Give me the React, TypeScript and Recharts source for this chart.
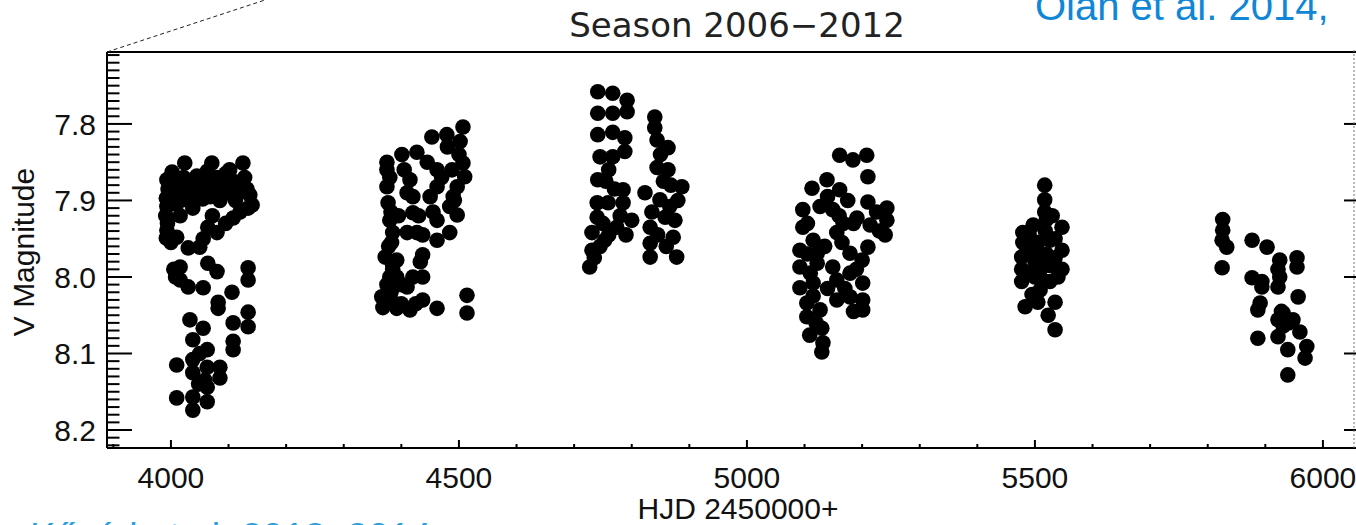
import React from 'react'
import { ScatterChart, Scatter, XAxis, YAxis } from 'recharts'

// V photometry per observing season: [HJD - 2450000, V mag]
const season2006: [number, number][] = [
  [3993, 7.873], [3995, 7.885], [3992, 7.897], [3993, 7.908], [3991, 7.92], [3994, 7.93],
  [3993, 7.939], [3992, 7.949], [4000, 7.955], [4010, 7.948], [4002, 7.863], [4008, 7.878],
  [4012, 7.892], [4010, 7.905], [4016, 7.92], [4024, 7.851], [4022, 7.87], [4028, 7.885],
  [4030, 7.9], [4035, 7.875], [4040, 7.893], [4038, 7.91], [4045, 7.868], [4050, 7.882],
  [4055, 7.898], [4058, 7.875], [4063, 7.862], [4071, 7.851], [4070, 7.875], [4068, 7.895],
  [4075, 7.885], [4080, 7.87], [4085, 7.9], [4090, 7.88], [4095, 7.865], [4102, 7.86],
  [4100, 7.89], [4108, 7.875], [4112, 7.9], [4118, 7.88], [4120, 7.889], [4125, 7.851],
  [4128, 7.87], [4132, 7.885], [4137, 7.893], [4141, 7.906], [4134, 7.91],
  [4120, 7.915], [4108, 7.923], [4095, 7.93], [4080, 7.942], [4064, 7.935], [4056, 7.95],
  [4050, 7.961], [4030, 7.962], [4072, 7.92],
  [4005, 7.99], [4008, 8.0], [4016, 7.987], [4016, 8.004], [4030, 8.013], [4056, 8.014],
  [4064, 7.982], [4080, 7.993], [4134, 7.988], [4134, 8.004], [4106, 8.02], [4082, 8.033],
  [4082, 8.041], [4134, 8.046], [4134, 8.065], [4108, 8.06], [4108, 8.084], [4108, 8.095],
  [4033, 8.056], [4056, 8.067], [4038, 8.082], [4063, 8.095], [4010, 8.115], [4038, 8.108],
  [4038, 8.125], [4063, 8.118], [4085, 8.118], [4085, 8.132], [4059, 8.135], [4063, 8.144],
  [4010, 8.158], [4038, 8.157], [4038, 8.174], [4063, 8.163], [4050, 8.1], [4048, 8.14]
]

const season2007: [number, number][] = [
  [4507, 7.804], [4502, 7.823], [4479, 7.814], [4453, 7.817], [4427, 7.837], [4401, 7.84],
  [4375, 7.85], [4507, 7.851], [4510, 7.869], [4497, 7.882], [4490, 7.895], [4484, 7.908],
  [4497, 7.919], [4492, 7.9], [4462, 7.86], [4462, 7.882], [4450, 7.895], [4455, 7.915],
  [4462, 7.926], [4484, 7.942], [4462, 7.952], [4437, 7.945], [4420, 7.916], [4420, 7.895],
  [4415, 7.873], [4410, 7.89], [4405, 7.86], [4375, 7.86], [4375, 7.882], [4377, 7.903],
  [4380, 7.926], [4385, 7.942], [4410, 7.942], [4427, 7.942], [4372, 7.974], [4392, 7.978],
  [4437, 7.971], [4433, 7.98], [4392, 8.0], [4420, 8.0], [4437, 8.0], [4410, 8.013],
  [4366, 8.026], [4385, 8.033], [4392, 8.041], [4415, 8.043], [4437, 8.03], [4462, 8.041],
  [4514, 8.024], [4514, 8.047], [4368, 8.04], [4378, 7.96], [4480, 7.83], [4470, 7.87],
  [4445, 7.85], [4488, 7.86], [4500, 7.84], [4430, 7.92], [4395, 7.92], [4385, 7.99],
  [4375, 8.01], [4400, 8.035], [4425, 8.035], [4400, 8.01], [4380, 7.87], [4382, 7.915],
  [4383, 7.955], [4385, 7.985], [4380, 8.0], [4382, 8.02]
]

const season2008: [number, number][] = [
  [4741, 7.758], [4767, 7.76], [4792, 7.769], [4741, 7.786], [4767, 7.786], [4792, 7.784],
  [4741, 7.814], [4767, 7.811], [4788, 7.818], [4745, 7.843], [4767, 7.843], [4788, 7.836],
  [4741, 7.873], [4760, 7.86], [4785, 7.886], [4740, 7.903], [4759, 7.903], [4785, 7.903],
  [4740, 7.922], [4774, 7.935], [4800, 7.926], [4731, 7.942], [4753, 7.952], [4731, 7.965],
  [4727, 7.987], [4840, 7.791], [4840, 7.805], [4844, 7.821], [4863, 7.831], [4844, 7.857],
  [4863, 7.86], [4887, 7.882], [4823, 7.89], [4849, 7.899], [4866, 7.908], [4858, 7.922],
  [4875, 7.926], [4832, 7.935], [4872, 7.948], [4832, 7.956], [4832, 7.974], [4878, 7.974],
  [4755, 7.875], [4770, 7.885], [4780, 7.92], [4750, 7.93], [4760, 7.945], [4745, 7.96],
  [4790, 7.945], [4735, 7.975], [4850, 7.84], [4855, 7.875], [4835, 7.915], [4868, 7.88],
  [4880, 7.9], [4845, 7.945], [4860, 7.96]
]

const season2009: [number, number][] = [
  [5161, 7.841], [5208, 7.841], [5184, 7.847], [5210, 7.869], [5139, 7.873], [5113, 7.884],
  [5161, 7.886], [5210, 7.902], [5243, 7.91], [5097, 7.912], [5127, 7.908], [5149, 7.912],
  [5243, 7.926], [5191, 7.923], [5167, 7.93], [5156, 7.942], [5097, 7.935], [5214, 7.932],
  [5240, 7.945], [5210, 7.961], [5115, 7.952], [5092, 7.965], [5122, 7.969], [5179, 7.969],
  [5200, 7.978], [5092, 7.987], [5122, 7.982], [5149, 7.987], [5092, 8.014], [5115, 8.008],
  [5156, 8.004], [5179, 7.995], [5201, 8.008], [5156, 8.03], [5179, 8.026], [5201, 8.03],
  [5201, 8.043], [5104, 8.034], [5127, 8.043], [5104, 8.052], [5109, 8.076], [5130, 8.067],
  [5132, 8.086], [5130, 8.098], [5140, 7.895], [5175, 7.9], [5160, 7.92], [5185, 7.93],
  [5105, 7.97], [5135, 7.96], [5165, 7.955], [5190, 7.99], [5110, 7.995], [5140, 8.015],
  [5170, 8.015], [5115, 8.025], [5185, 8.045], [5120, 8.06], [5105, 7.93], [5225, 7.915],
  [5230, 7.94]
]

const season2010: [number, number][] = [
  [5517, 7.88], [5517, 7.899], [5517, 7.915], [5520, 7.925], [5547, 7.935], [5497, 7.932],
  [5479, 7.942], [5479, 7.955], [5477, 7.974], [5477, 7.99], [5477, 8.006], [5505, 7.955],
  [5510, 7.974], [5510, 7.99], [5526, 7.952], [5547, 7.965], [5547, 7.99], [5526, 7.985],
  [5526, 8.006], [5509, 8.017], [5495, 8.023], [5483, 8.039], [5505, 8.033], [5535, 8.033],
  [5523, 8.05], [5535, 8.069], [5490, 7.945], [5495, 7.965], [5500, 7.98], [5490, 7.995],
  [5520, 7.97], [5535, 7.95], [5535, 7.975], [5500, 8.0], [5515, 8.005], [5485, 7.96],
  [5540, 8.0], [5518, 7.94], [5530, 7.92]
]

const season2011: [number, number][] = [
  [5826, 7.925], [5826, 7.939], [5825, 7.952], [5833, 7.961], [5825, 7.988], [5877, 7.952],
  [5903, 7.961], [5925, 7.978], [5955, 7.975], [5955, 7.987], [5922, 7.99], [5877, 8.001],
  [5894, 8.006], [5894, 8.013], [5922, 8.013], [5957, 8.026], [5891, 8.034], [5887, 8.043],
  [5931, 8.047], [5922, 8.056], [5948, 8.056], [5931, 8.064], [5960, 8.072], [5887, 8.08],
  [5922, 8.078], [5939, 8.095], [5972, 8.091], [5969, 8.106], [5939, 8.128], [5925, 8.0],
  [5940, 8.06], [5928, 8.045]
]

const seasonNames = ['2006/07', '2007/08', '2008/09', '2009/10', '2010/11', '2011/12']
const seasons = [season2006, season2007, season2008, season2009, season2010, season2011]

const xMajorTicks = [4000, 4500, 5000, 5500, 6000]
const yMajorTicks = [7.8, 7.9, 8.0, 8.1, 8.2]

const X_DOMAIN: [number, number] = [3889, 6080]
const Y_DOMAIN: [number, number] = [7.706, 8.2235]

// minor ticks every 100 d and every 0.01 mag
const xTicks: number[] = []
for (let v = 3900; v <= 6000; v += 100) xTicks.push(v)
const yTicks: number[] = []
for (let i = 771; i <= 822; i++) yTicks.push(i / 100)

const isYMajor = (v: number) => yMajorTicks.some((m) => Math.abs(m - v) < 1e-6)

const FONT = '"Liberation Sans", Arial, Helvetica, sans-serif'

// ticks point into the frame, IDL style
const BottomTick = ({ x, y, payload }: any) => {
  const major = xMajorTicks.includes(payload.value)
  return (
    <g>
      <line x1={x} y1={y} x2={x} y2={y - (major ? 8 : 4)} stroke="#000" strokeWidth={2} />
      {major && (
        <text x={x} y={y + 40} textAnchor="middle" fontSize={30} fill="#111" fontFamily={FONT}>
          {payload.value}
        </text>
      )}
    </g>
  )
}

const TopTick = ({ x, y, payload }: any) => {
  const major = xMajorTicks.includes(payload.value)
  return <line x1={x} y1={y} x2={x} y2={y + (major ? 8 : 4)} stroke="#000" strokeWidth={2} />
}

const LeftTick = ({ x, y, payload }: any) => {
  const major = isYMajor(payload.value)
  return (
    <g>
      <line x1={x} y1={y} x2={x + (major ? 25 : 12.5)} y2={y} stroke="#000" strokeWidth={2} />
      {major && (
        <text x={x - 11} y={y} dy="0.36em" textAnchor="end" fontSize={30} fill="#111" fontFamily={FONT}>
          {payload.value.toFixed(1)}
        </text>
      )}
    </g>
  )
}

const RightTick = ({ x, y, payload }: any) => {
  const major = isYMajor(payload.value)
  return <line x1={x} y1={y} x2={x - (major ? 25 : 12.5)} y2={y} stroke="#000" strokeWidth={2} />
}

const Dot = (props: any) => <circle cx={props.cx} cy={props.cy} r={7.8} fill="#000" />

const frameLine = { stroke: '#000', strokeWidth: 2 }

export default function App() {
  return (
    <div
      style={{
        position: 'absolute',
        left: 0,
        top: 0,
        width: 1356,
        height: 525,
        overflow: 'hidden',
        background: '#fff'
      }}
    >
      <ScatterChart width={1380} height={525} margin={{ top: 0, right: 0, bottom: 0, left: 0 }}>
        <XAxis
          xAxisId="bottom"
          dataKey="hjd"
          type="number"
          domain={X_DOMAIN}
          allowDataOverflow
          ticks={xTicks}
          interval={0}
          height={77}
          tickSize={0}
          tickMargin={0}
          tickLine={false}
          axisLine={frameLine}
          tick={<BottomTick />}
        />
        <XAxis
          xAxisId="top"
          orientation="top"
          type="number"
          domain={X_DOMAIN}
          allowDataOverflow
          ticks={xTicks}
          interval={0}
          height={52}
          tickSize={0}
          tickMargin={0}
          tickLine={false}
          axisLine={frameLine}
          tick={<TopTick />}
        />
        <YAxis
          yAxisId="left"
          dataKey="mag"
          type="number"
          reversed
          domain={Y_DOMAIN}
          allowDataOverflow
          ticks={yTicks}
          interval={0}
          width={107}
          tickSize={0}
          tickMargin={0}
          tickLine={false}
          axisLine={frameLine}
          tick={<LeftTick />}
        />
        <YAxis
          yAxisId="right"
          orientation="right"
          type="number"
          reversed
          domain={Y_DOMAIN}
          allowDataOverflow
          ticks={yTicks}
          interval={0}
          width={11}
          tickSize={0}
          tickMargin={0}
          tickLine={false}
          axisLine={frameLine}
          tick={<RightTick />}
        />
        {seasons.map((pts, i) => (
          <Scatter
            key={seasonNames[i]}
            name={seasonNames[i]}
            xAxisId="bottom"
            yAxisId="left"
            data={pts.map(([hjd, mag]) => ({ hjd, mag }))}
            shape={<Dot />}
            isAnimationActive={false}
          />
        ))}
      </ScatterChart>

      <svg
        width={1356}
        height={525}
        style={{ position: 'absolute', left: 0, top: 0, pointerEvents: 'none' }}
      >
        <line x1={107} y1={52} x2={268} y2={-1} stroke="#222" strokeWidth={1} strokeDasharray="4 3" />
        <line x1={1354} y1={50} x2={1354} y2={448} stroke="#777" strokeWidth={1} strokeDasharray="2 2" />
        <text x={737} y={37} textAnchor="middle" fontSize={34} fill="#222" fontFamily='"DejaVu Sans", sans-serif'>
          Season 2006−2012
        </text>
        <text x={738} y={519} textAnchor="middle" fontSize={30} fill="#111" fontFamily={FONT}>
          HJD 2450000+
        </text>
        <text
          x={34}
          y={252}
          transform="rotate(-90 34 252)"
          textAnchor="middle"
          fontSize={30}
          fill="#111"
          fontFamily={FONT}
        >
          V Magnitude
        </text>
        <text x={1035} y={20} fontSize={40} fill="#0f87d6" fontFamily={FONT}>
          Olah et al. 2014,
        </text>
        <text x={30} y={550} fontSize={38} fill="#2a9fe0" fontFamily={FONT}>
          Kővári et al. 2013, 2014
        </text>
      </svg>
    </div>
  )
}
